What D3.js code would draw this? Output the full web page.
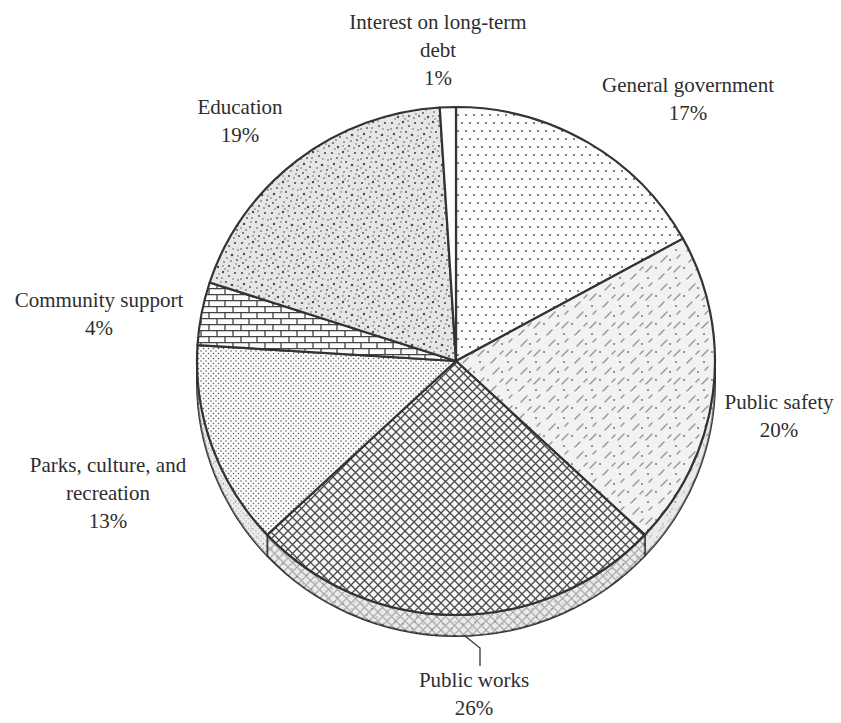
<!DOCTYPE html>
<html><head><meta charset="utf-8">
<script src="https://cdn.jsdelivr.net/npm/d3@7"></script>
<style>body{margin:0;background:#fff}</style>
</head><body>
<svg id="chart" width="841" height="723"></svg>
<script>
// ---- data ----
const categories = ["General government","Public safety","Public works","Parks, culture, and recreation","Community support","Education","Interest on long-term debt"];
const values = [17,20,26,13,4,19,1];
const percentLabels = ["17%","20%","26%","13%","4%","19%","1%"];
const labelLines = [["General government"],["Public safety"],["Public works"],["Parks, culture, and","recreation"],["Community support"],["Education"],["Interest on long-term","debt"]];
const patternIds = ["pg","ps","pw","pp","pc","pe","pi"];

// ---- layout ----
const W = 841, H = 723;
const cx = 456, cy = 361, rx = 259, ry = 254, depth = 21;
const labelAnchors = [[688,92],[779,409],[474,687],[108,472],[99,307],[240,114],[438,29]];
const lineH = 28;

const svg = d3.select("#chart");
const defs = svg.append("defs");

function pat(id, w, h, bg) {
  const p = defs.append("pattern").attr("id", id).attr("width", w).attr("height", h)
    .attr("patternUnits", "userSpaceOnUse");
  p.append("rect").attr("width", w).attr("height", h).attr("fill", bg);
  return p;
}
// General government: sparse dots
let p = pat("pg", 16, 16, "#fcfcfc");
[[2,3],[10,3],[6,11],[14,11]].forEach(d => p.append("circle").attr("cx", d[0]).attr("cy", d[1]).attr("r", 0.9).attr("fill", "#444"));
// Public safety: light diagonal streaks
p = pat("ps", 28, 28, "#f2f2f2");
p.append("path").attr("d", "M2,20L8,14 M15,27L20,22 M17,10L23,4 M5,6L8,3 M24,18L27,15")
  .attr("stroke", "#9a9a9a").attr("stroke-width", 1.5).attr("stroke-linecap", "round");
[[12,16],[26,8],[4,26]].forEach(d => p.append("circle").attr("cx", d[0]).attr("cy", d[1]).attr("r", 0.9).attr("fill", "#666"));
// Public works: crosshatch
p = pat("pw", 9, 9, "#f7f7f7");
p.append("path").attr("d", "M0,0L9,9M9,0L0,9").attr("stroke", "#4a4a4a").attr("stroke-width", 1.3);
// Parks: dense dots
p = pat("pp", 5, 5, "#fbfbfb");
[[1,1],[3.5,3.5]].forEach(d => p.append("circle").attr("cx", d[0]).attr("cy", d[1]).attr("r", 0.75).attr("fill", "#555"));
// Community support: bricks
p = pat("pc", 16, 12, "#fbfbfb");
p.append("path").attr("d", "M0,0.6H16 M0,6.6H16 M1,0.6V6.6 M9,6.6V12.6")
  .attr("stroke", "#444").attr("stroke-width", 1.3);
// Education: dense speckles
p = pat("pe", 30, 30, "#e6e6e6");
[[2,3,1.1],[7,8,0.9],[13,2,1.2],[19,6,0.9],[25,3,1.1],[28,10,0.8],[4,14,1.2],[10,17,0.9],[16,12,1.0],[22,15,1.3],[27,20,0.9],
 [3,23,0.9],[8,27,1.2],[14,22,0.8],[19,26,1.1],[24,28,0.8],[12,8,0.8],[6,20,0.8],[21,21,0.8],[29,26,1.0],[17,18,0.8],[1,9,0.8],
 [9,4,0.7],[23,9,0.7],[15,29,0.7],[26,24,0.7],[11,12,0.7],[5,29,0.7],[18,1,0.7],[28,16,0.7],[1,18,0.7],[13,26,0.7]]
  .forEach(d => p.append("circle").attr("cx", d[0]).attr("cy", d[1]).attr("r", d[2]).attr("fill", "#4a4a4a"));
// Interest: blank
p = pat("pi", 10, 10, "#fdfdfd");
// Side
p = pat("side", 20, 20, "#e4e4e4");
[[3,4],[12,9],[7,15],[17,17],[15,2]].forEach(d => p.append("circle").attr("cx", d[0]).attr("cy", d[1]).attr("r", 0.8).attr("fill", "#777"));

// ---- pie ----
const pie = d3.pie().sort(null).value(d => d)(values);
const pt = (a, dy = 0) => [cx + rx * Math.sin(a), cy - ry * Math.cos(a) + dy];

function slicePath(a0, a1) {
  const path = d3.path();
  const s = pt(a0), e = pt(a1);
  path.moveTo(cx, cy);
  path.lineTo(s[0], s[1]);
  const large = (a1 - a0) > Math.PI ? 1 : 0;
  return path.toString() + `A${rx},${ry} 0 ${large} 1 ${e[0]},${e[1]}Z`;
}
function sidePath(a0, a1) {
  const s = pt(a0), e = pt(a1), sd = pt(a0, depth), ed = pt(a1, depth);
  const large = (a1 - a0) > Math.PI ? 1 : 0;
  return `M${s[0]},${s[1]}A${rx},${ry} 0 ${large} 1 ${e[0]},${e[1]}L${ed[0]},${ed[1]}A${rx},${ry} 0 ${large} 0 ${sd[0]},${sd[1]}Z`;
}

const g = svg.append("g");
// sides (lower half only)
pie.forEach((d, i) => {
  const a0 = Math.max(d.startAngle, Math.PI / 2), a1 = Math.min(d.endAngle, 3 * Math.PI / 2);
  if (a1 <= a0) return;
  g.append("path").attr("d", sidePath(a0, a1)).attr("fill", "url(#side)")
    .attr("stroke", "#333").attr("stroke-width", 2).attr("stroke-linejoin", "round");
  g.append("path").attr("d", sidePath(a0, a1)).attr("fill", "url(#" + patternIds[i] + ")")
    .attr("opacity", 0.35).attr("stroke", "none");
});
// top faces
pie.forEach((d, i) => {
  g.append("path").attr("d", slicePath(d.startAngle, d.endAngle))
    .attr("fill", "url(#" + patternIds[i] + ")")
    .attr("stroke", "#333").attr("stroke-width", 2.2).attr("stroke-linejoin", "round");
});

// leader line for Public works
svg.append("path").attr("d", "M465,636L480,648L480,666").attr("fill", "none")
  .attr("stroke", "#333").attr("stroke-width", 1.3);

// ---- labels ----
const lab = svg.append("g").attr("font-family", "'Liberation Serif','Times New Roman',serif")
  .attr("font-size", 21).attr("fill", "#2e2e2e").attr("text-anchor", "middle");
categories.forEach((c, i) => {
  const [x, y] = labelAnchors[i];
  const lines = labelLines[i].concat([percentLabels[i]]);
  lines.forEach((t, k) => lab.append("text").attr("x", x).attr("y", y + k * lineH).text(t));
});
</script>
</body></html>
